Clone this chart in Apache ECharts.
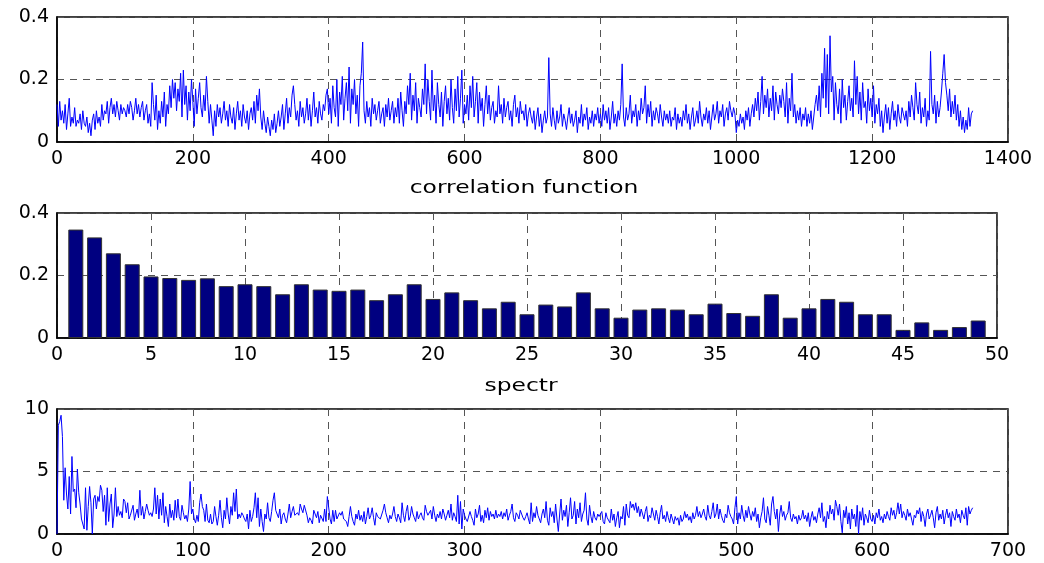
<!DOCTYPE html>
<html>
<head>
<meta charset="utf-8">
<script src="https://cdn.jsdelivr.net/npm/echarts@6/dist/echarts.min.js"></script>
<style>html,body{margin:0;padding:0;background:#fff}#c{width:1044px;height:563px}</style>
</head>
<body>
<div id="c"></div>
<script>
// ---- data ----
// top panel: sampled every 2 indices, starting at index 0
const corrStep = 2;
const corrValues = [
.12,.05,.13,.07,.10,.06,.12,.04,.09,.14,.05,.08,.06,.11,.05,.07,.06,.09,.04,.10,.06,.05,.08,.03,.06,
.02,.07,.09,.04,.10,.06,.08,.05,.12,.07,.10,.09,.13,.06,.11,.14,.09,.12,.08,.13,.10,.07,.12,.09,.11,
.10,.08,.12,.09,.13,.11,.07,.10,.14,.09,.12,.08,.11,.13,.07,.10,.12,.06,.09,.05,.19,.12,.07,.15,.04,
.10,.06,.13,.08,.16,.05,.12,.09,.18,.11,.20,.14,.19,.10,.17,.13,.22,.08,.23,.12,.18,.07,.16,.10,.20,
.13,.05,.17,.09,.14,.19,.11,.08,.15,.10,.21,.13,.06,.12,.07,.02,.10,.05,.12,.08,.11,.06,.09,.13,.07,
.10,.05,.12,.08,.06,.11,.04,.09,.13,.07,.10,.05,.12,.08,.06,.10,.04,.09,.11,.07,.13,.06,.15,.10,.17,
.08,.04,.10,.06,.03,.08,.05,.02,.07,.04,.09,.03,.06,.10,.05,.08,.12,.04,.09,.14,.06,.11,.08,.15,.18,
.12,.07,.10,.05,.13,.08,.11,.06,.09,.14,.07,.12,.05,.10,.16,.08,.11,.06,.13,.09,.07,.12,.10,.15,.17,
.09,.14,.06,.18,.11,.08,.20,.05,.16,.12,.21,.07,.14,.19,.10,.24,.06,.17,.12,.20,.09,.15,.05,.18,.22,
.32,.10,.06,.13,.08,.11,.05,.14,.09,.12,.07,.10,.13,.06,.09,.11,.05,.12,.08,.14,.07,.10,.13,.06,.11,
.08,.14,.06,.16,.10,.05,.13,.09,.18,.12,.22,.07,.15,.10,.19,.06,.14,.11,.08,.17,.12,.25,.09,.20,.13,
.07,.23,.10,.15,.06,.19,.12,.08,.16,.05,.13,.18,.09,.14,.07,.20,.11,.06,.17,.10,.21,.08,.14,.23,.06,
.12,.09,.15,.07,.18,.11,.21,.08,.13,.19,.06,.16,.10,.14,.05,.12,.18,.09,.15,.07,.11,.13,.06,.10,.08,
.18,.09,.12,.06,.14,.08,.11,.13,.07,.10,.05,.12,.15,.08,.11,.06,.13,.09,.10,.07,.12,.05,.09,.11,.08,
.06,.10,.04,.08,.11,.05,.09,.03,.07,.10,.06,.08,.27,.09,.05,.11,.07,.04,.10,.06,.08,.12,.05,.09,.07,
.04,.08,.11,.06,.09,.05,.07,.10,.03,.08,.06,.12,.05,.09,.07,.11,.04,.08,.06,.10,.05,.09,.07,.11,.06,
.09,.05,.12,.07,.10,.06,.11,.04,.08,.13,.06,.09,.05,.10,.07,.12,.25,.08,.05,.11,.07,.09,.15,.06,.10,
.08,.12,.05,.10,.07,.14,.09,.11,.18,.06,.12,.08,.13,.05,.10,.07,.11,.09,.06,.12,.08,.05,.10,.07,.09,
.06,.10,.05,.08,.07,.11,.04,.09,.06,.08,.05,.10,.07,.12,.06,.09,.04,.08,.11,.05,.07,.10,.06,.13,.08,
.05,.09,.07,.11,.06,.10,.04,.08,.12,.07,.09,.13,.06,.10,.08,.12,.05,.09,.11,.07,.13,.10,.08,.11,.09,
.03,.07,.05,.09,.06,.08,.04,.10,.07,.11,.05,.09,.12,.08,.14,.10,.16,.07,.13,.21,.09,.15,.11,.17,.08,
.14,.10,.18,.07,.16,.12,.09,.15,.11,.17,.13,.08,.19,.06,.14,.10,.22,.08,.12,.06,.10,.07,.11,.05,.09,
.07,.11,.05,.09,.06,.10,.04,.08,.12,.15,.10,.18,.08,.22,.14,.30,.11,.28,.09,.34,.16,.21,.07,.19,.12,
.09,.17,.06,.20,.11,.15,.07,.13,.18,.10,.14,.08,.26,.12,.21,.09,.16,.07,.19,.11,.13,.06,.17,.10,.14,
.08,.18,.06,.12,.09,.14,.05,.10,.03,.08,.12,.06,.11,.04,.09,.13,.07,.10,.05,.12,.08,.06,.11,.09,.07,
.10,.05,.13,.08,.15,.11,.07,.19,.12,.09,.16,.06,.11,.08,.14,.05,.10,.07,.29,.12,.09,.15,.06,.13,.08,
.11,.16,.22,.28,.19,.15,.10,.17,.08,.13,.09,.15,.07,.12,.05,.10,.04,.08,.03,.07,.04,.11,.05,.09,.10
];

// middle panel: bars at harmonics 1..49
const barValues = [
0.347,0.322,0.271,0.236,0.197,0.192,0.186,0.191,0.166,0.172,
0.166,0.140,0.172,0.155,0.151,0.155,0.121,0.140,0.172,0.125,
0.146,0.121,0.095,0.116,0.076,0.107,0.101,0.146,0.095,0.065,
0.091,0.095,0.091,0.076,0.110,0.080,0.071,0.140,0.065,0.095,
0.125,0.116,0.076,0.076,0.026,0.050,0.026,0.035,0.056
];

// bottom panel: one value per index, starting at 0
const spectrValues = [
0,8.7,9.0,9.5,7.8,2.7,5.3,3.2,2.0,4.6,1.6,6.2,3.4,3.6,2.1,5.2,3.3,2.4,1.2,0.8,0.4,3.7,0.3,2.2,3.8,
2.5,0.0,2.8,3.1,2.0,3.0,2.6,3.9,3.5,1.8,3.1,0.7,3.7,1.0,2.4,3.2,0.5,1.6,3.7,1.4,2.2,1.5,1.8,1.3,2.8,
2.6,1.7,2.5,1.2,1.5,1.4,2.3,1.1,1.6,2.0,1.3,3.5,1.5,2.2,1.2,1.8,2.4,1.9,1.5,1.7,1.4,2.0,3.7,1.6,3.1,
1.2,2.8,1.5,3.3,0.9,2.2,1.4,0.6,2.4,1.3,1.9,1.1,2.7,1.3,2.8,1.4,1.1,2.3,1.7,1.2,1.5,1.0,2.0,4.2,1.6,
2.0,1.2,0.9,1.5,1.0,2.5,3.2,2.2,1.9,1.0,2.4,1.1,0.9,1.6,0.8,1.0,2.2,1.4,0.7,1.5,2.7,1.3,0.5,1.9,1.2,
2.9,1.6,0.8,2.2,1.5,3.3,1.8,3.6,1.2,1.6,1.3,1.7,1.5,1.2,1.0,1.6,0.4,1.9,1.0,1.4,2.1,3.3,1.3,2.9,0.6,
2.0,1.0,0.2,1.6,1.2,2.5,1.3,1.0,1.8,2.7,3.3,1.9,1.6,1.3,2.0,0.8,1.5,1.7,1.2,0.9,1.6,2.4,1.3,1.8,2.2,
1.5,1.6,1.7,1.5,2.4,2.0,1.7,2.3,2.2,1.5,0.9,1.3,1.1,0.8,1.9,1.6,1.3,1.8,0.9,1.5,1.4,1.0,2.0,1.0,3.0,
2.9,1.2,0.8,1.9,1.0,1.9,1.2,1.1,1.7,1.5,1.8,1.2,1.1,1.0,0.6,1.4,2.2,1.4,1.0,0.7,1.6,1.2,1.9,1.1,1.5,
1.0,1.8,0.8,1.4,2.1,1.2,1.5,2.1,1.3,0.7,1.7,1.4,1.5,1.2,1.1,1.9,2.4,1.7,1.3,0.9,1.5,1.2,1.6,2.2,1.4,
1.0,1.6,1.3,0.9,2.5,1.5,1.0,1.8,2.3,1.1,1.4,2.2,1.6,1.3,1.0,1.8,1.2,1.5,1.7,1.3,1.1,2.3,1.8,1.5,1.4,
1.9,1.2,2.2,1.5,1.0,1.6,1.3,1.8,1.2,2.0,1.6,1.1,1.5,1.9,1.3,2.4,1.1,1.7,1.4,1.0,3.1,0.8,2.6,0.4,2.0,
1.5,1.2,1.0,0.9,1.8,1.4,1.1,0.7,2.0,1.3,1.6,2.3,1.0,1.5,0.9,1.9,1.3,2.1,1.1,1.8,1.4,1.6,1.2,1.9,1.3,
1.6,1.4,1.8,1.2,1.7,1.4,2.0,1.1,1.5,1.8,2.4,1.3,1.0,1.7,1.5,1.2,1.9,1.6,1.3,1.1,1.4,1.7,1.2,0.8,2.5,
1.0,1.7,1.3,2.2,1.5,1.2,0.9,1.6,2.0,1.3,2.6,1.1,0.7,2.1,1.4,1.8,0.9,2.4,1.2,0.2,1.6,2.8,1.1,1.9,1.4,
2.3,0.6,1.7,2.9,1.2,1.5,2.6,0.8,2.0,1.3,2.5,1.0,1.6,1.9,3.3,1.2,0.7,2.3,1.4,0.9,1.8,1.3,1.1,1.6,1.4,
1.6,1.8,1.0,0.8,1.7,1.3,1.4,0.9,2.0,1.1,1.6,0.6,1.3,1.8,0.5,1.4,1.2,2.2,0.7,2.4,1.5,1.3,2.6,2.1,2.4,
1.9,2.5,1.7,2.2,1.4,2.0,1.6,1.2,1.8,2.2,1.0,1.5,1.3,2.1,1.6,1.1,1.9,1.4,0.8,1.7,2.3,1.2,1.5,1.0,1.8,
1.3,0.9,1.6,1.2,0.8,1.4,1.1,1.3,0.7,1.5,1.0,1.2,1.8,1.3,1.6,1.1,1.4,0.9,1.7,1.2,1.5,2.2,1.4,1.8,1.3,
1.6,2.0,1.4,1.1,2.3,1.5,1.2,1.8,2.5,1.3,1.6,2.4,1.2,2.0,1.5,1.1,0.9,1.6,1.3,2.3,1.7,1.4,1.2,0.8,2.1,
3.0,0.8,1.7,1.2,2.3,1.5,1.0,1.9,1.3,2.2,1.6,1.1,1.8,1.4,2.1,1.0,1.6,0.5,1.3,1.8,2.9,1.2,0.9,2.2,1.5,
0.7,2.4,3.0,1.8,1.2,2.0,0.2,1.6,2.3,1.4,1.8,1.1,1.5,1.7,2.6,1.3,1.0,1.6,1.2,1.4,0.8,1.5,1.1,1.3,1.9,
1.2,1.5,1.0,1.7,0.6,1.3,1.8,1.1,1.4,0.9,1.6,2.1,1.3,2.5,1.0,1.4,0.5,1.8,1.2,2.3,1.6,2.0,1.1,2.7,2.2,
1.5,2.4,1.0,0.1,1.9,1.3,2.2,0.8,1.7,0.4,2.0,1.2,1.6,0.6,2.3,0.0,1.8,1.1,2.1,0.7,1.6,1.3,0.9,1.9,1.2,
1.0,1.5,0.8,1.7,1.3,2.0,1.1,1.4,0.9,1.6,1.2,1.8,1.4,1.1,2.1,1.5,1.9,1.2,1.7,2.5,1.6,2.4,1.3,1.8,1.5,
1.1,2.0,1.4,1.7,1.2,0.7,1.5,1.3,1.9,1.6,2.1,1.0,1.8,1.4,0.6,1.6,2.0,1.2,1.5,1.9,1.3,0.5,1.7,2.2,1.1,
1.6,1.2,1.9,0.8,1.5,2.0,1.3,1.7,0.6,1.8,1.4,1.1,2.0,1.3,1.6,0.9,1.9,1.5,1.2,2.1,0.7,2.2,1.6,1.9,2.1
];

const titles = ['correlation function', 'spectr'];
const xTicks = [{min:0,max:1400,interval:200},{min:0,max:50,interval:5},{min:0,max:700,interval:100}];
const yTicks = [{min:0,max:0.4,interval:0.2},{min:0,max:0.4,interval:0.2},{min:0,max:10,interval:5}];

// ---- chart ----
const FONT = '"DejaVu Sans", Verdana, sans-serif';
const lbl = {fontFamily: FONT, fontSize: 19, color: '#000'};
const split = {show: true, lineStyle: {type: [7, 6], color: '#555', width: 1}};

const grids = [
  {left: 57, right: 36, top: 17, height: 125},
  {left: 57, right: 47, top: 213, height: 125},
  {left: 57, right: 36, top: 409, height: 125}
].map(g => Object.assign({show: true, borderColor: '#000', borderWidth: 1.5, backgroundColor: '#fff', containLabel: false}, g));

const fmt = v => String(v);
const xAxes = xTicks.map((t, i) => ({
  type: 'value', gridIndex: i, min: t.min, max: t.max, interval: t.interval,
  axisLine: {show: true, onZero: false, lineStyle: {color: '#000', width: 1.5}},
  axisTick: {show: false},
  axisLabel: Object.assign({margin: 8, showMinLabel: true, showMaxLabel: true, hideOverlap: false, formatter: fmt}, lbl),
  splitLine: split
}));
const yAxes = yTicks.map((t, i) => ({
  type: 'value', gridIndex: i, min: t.min, max: t.max, interval: t.interval,
  axisLine: {show: true, lineStyle: {color: '#000', width: 1.5}},
  axisTick: {show: false},
  axisLabel: Object.assign({margin: 8, showMinLabel: true, showMaxLabel: true, formatter: fmt}, lbl),
  splitLine: split
}));

const corrData = corrValues.map((v, i) => [i * corrStep, v]);
const barData = barValues.map((v, i) => [i + 1, v]);
const spectrData = spectrValues.map((v, i) => [i, v]);

const titleText = (t, x, y) => ({
  type: 'text', x: x, y: y, scaleX: 1.3, scaleY: 1, silent: true,
  style: {text: t, fill: '#000', font: '18px ' + FONT, textAlign: 'center', textVerticalAlign: 'top'}
});

const chart = echarts.init(document.getElementById('c'), null, {renderer: 'canvas'});
chart.setOption({
  animation: false,
  backgroundColor: '#fff',
  graphic: [titleText(titles[0], 524, 179), titleText(titles[1], 521, 377)],
  grid: grids,
  xAxis: xAxes,
  yAxis: yAxes,
  series: [
    {type: 'line', xAxisIndex: 0, yAxisIndex: 0, data: corrData, showSymbol: false, symbol: 'none',
     lineStyle: {color: '#0000ff', width: 1}, itemStyle: {color: '#0000ff'}},
    {type: 'bar', xAxisIndex: 1, yAxisIndex: 1, data: barData, barWidth: 15,
     itemStyle: {color: '#000080', borderColor: '#333', borderWidth: 1}},
    {type: 'line', xAxisIndex: 2, yAxisIndex: 2, data: spectrData, showSymbol: false, symbol: 'none',
     lineStyle: {color: '#0000ff', width: 1}, itemStyle: {color: '#0000ff'}}
  ]
});
</script>
</body>
</html>
